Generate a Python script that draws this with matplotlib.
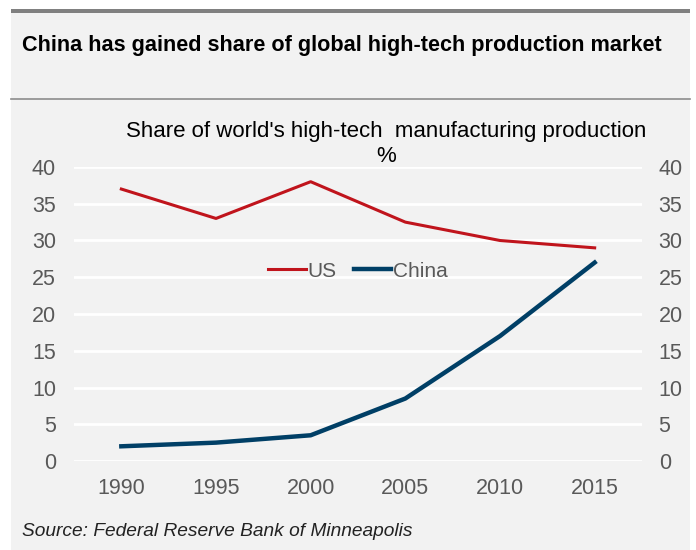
import matplotlib.pyplot as plt
from matplotlib.patches import Rectangle
from matplotlib.lines import Line2D

years = ['1990', '1995', '2000', '2005', '2010', '2015']
us = [37, 33, 38, 32.5, 30, 29]
china = [2, 2.5, 3.5, 8.5, 17, 27]
yticks = [0, 5, 10, 15, 20, 25, 30, 35, 40]

plt.rcParams['font.family'] = ['Liberation Sans', 'DejaVu Sans']

W, H = 696, 550
fig = plt.figure(figsize=(W / 100, H / 100), dpi=100)
fig.patch.set_facecolor('white')

# gray panel, top bar and header divider
fig.patches.append(Rectangle((11 / W, 0), 679 / W, 1 - 10 / H, transform=fig.transFigure,
                             facecolor='#f2f2f2', edgecolor='none', zorder=-2))
fig.patches.append(Rectangle((11 / W, 1 - 13 / H), 679 / W, 4 / H, transform=fig.transFigure,
                             facecolor='#808080', edgecolor='none', zorder=-1))
fig.add_artist(Line2D([11 / W, 690 / W], [1 - 99 / H, 1 - 99 / H], transform=fig.transFigure,
                      color='#8c8c8c', lw=1.2, zorder=-1))

fig.text(22 / W, 1 - 45 / H, 'China has gained share of global high-tech production market',
         fontsize=15.6, fontweight='bold', color='black', va='center')
fig.text(386 / W, 1 - 132 / H, "Share of world's high-tech  manufacturing production",
         fontsize=16, color='black', ha='center', va='center')
fig.text(386 / W, 1 - 157 / H, '%', fontsize=16, color='black', ha='center', va='center')
fig.text(22 / W, 1 - 532 / H, 'Source: Federal Reserve Bank of Minneapolis',
         fontsize=13.8, style='italic', color='#222222', va='center')

ax = fig.add_axes([74 / W, 1 - 461 / H, 568 / W, 294 / H])
ax.set_facecolor('none')
x = range(len(years))
ax.plot(x, us, color='#c0141c', lw=2.2, label='US')
ax.plot(x, china, color='#003f66', lw=3.2, label='China')
ax.set_xlim(-0.5, len(years) - 0.5)
ax.set_ylim(0, 40)
ax.set_yticks(yticks)
ax.set_xticks(list(x))
ax.set_xticklabels(years)
ax.grid(axis='y', color='white', lw=2)
ax.set_axisbelow(True)
for s in ax.spines.values():
    s.set_visible(False)
ax.tick_params(length=0, labelsize=15.5, labelcolor='#595959')
ax.tick_params(axis='y', pad=13)
ax.tick_params(axis='x', pad=12)

ax2 = ax.twinx()
ax2.set_ylim(0, 40)
ax2.set_yticks(yticks)
for s in ax2.spines.values():
    s.set_visible(False)
ax2.tick_params(length=0, labelsize=15.5, labelcolor='#595959', pad=12)

ax.legend(loc='center', bbox_to_anchor=(0.5, 0.646), ncol=2, frameon=False, fontsize=15,
          handlelength=1.8, handletextpad=0.1, columnspacing=0.8, labelcolor='#595959')

fig.savefig('out.png', dpi=100)
